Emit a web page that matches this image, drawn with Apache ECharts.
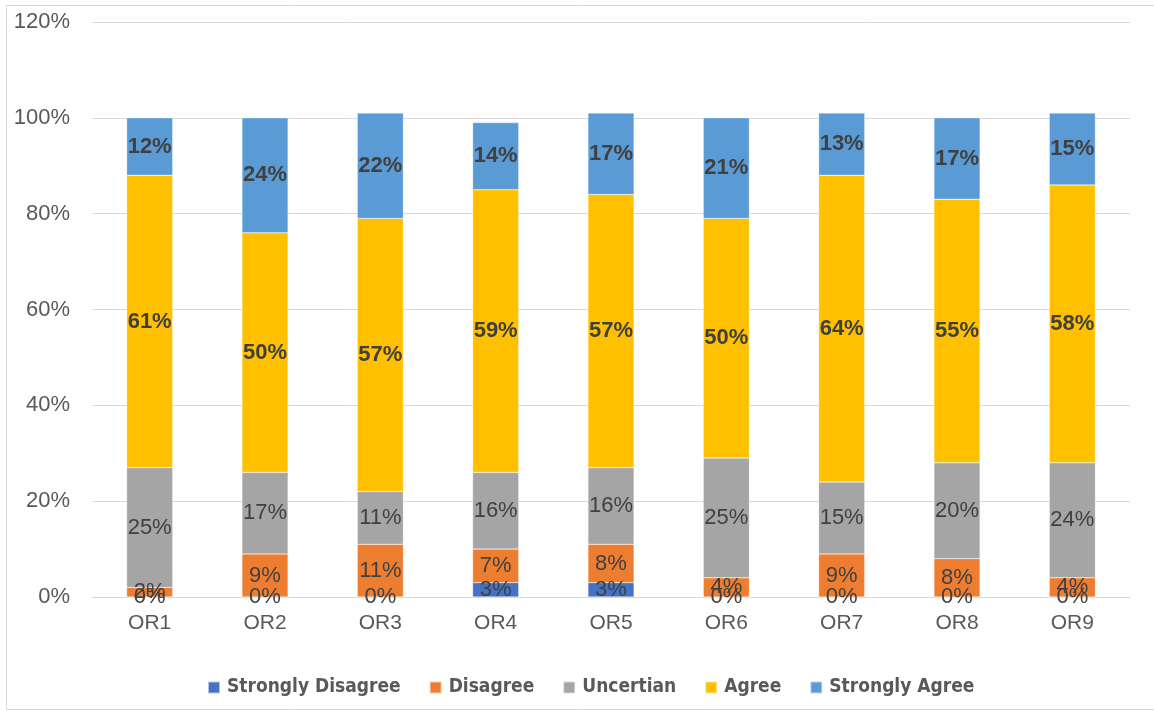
<!DOCTYPE html>
<html>
<head>
<meta charset="utf-8">
<script src="https://cdn.jsdelivr.net/npm/echarts@6/dist/echarts.min.js"></script>
<style>
  html, body { margin: 0; padding: 0; background: #fff; }
  #chart { width: 1154px; height: 711px; }
</style>
</head>
<body>
<div id="chart"></div>
<script>
// Survey responses per item, percentages of respondents
const categories = ['OR1', 'OR2', 'OR3', 'OR4', 'OR5', 'OR6', 'OR7', 'OR8', 'OR9'];
const stronglyDisagree = [0, 0, 0, 3, 3, 0, 0, 0, 0];
const disagree = [2, 9, 11, 7, 8, 4, 9, 8, 4];
const uncertain = [25, 17, 11, 16, 16, 25, 15, 20, 24];
const agree = [61, 50, 57, 59, 57, 50, 64, 55, 58];
const stronglyAgree = [12, 24, 22, 14, 17, 21, 13, 17, 15];
const yTicks = [0, 20, 40, 60, 80, 100, 120];

const seriesDefs = [
  { name: 'Strongly Disagree', data: stronglyDisagree, color: '#4472C4', bold: false },
  { name: 'Disagree', data: disagree, color: '#ED7D31', bold: false },
  { name: 'Uncertian', data: uncertain, color: '#A5A5A5', bold: false },
  { name: 'Agree', data: agree, color: '#FFC000', bold: true },
  { name: 'Strongly Agree', data: stronglyAgree, color: '#5B9BD5', bold: true }
];

const LEGEND_FONT = '"DejaVu Sans Condensed", "Liberation Sans", sans-serif';
const FONT = '"Liberation Sans", sans-serif';

const chart = echarts.init(document.getElementById('chart'), null, { renderer: 'canvas' });

chart.setOption({
  animation: false,
  backgroundColor: '#fff',
  graphic: [{
    type: 'rect',
    shape: { x: 6.5, y: 5.5, width: 1160, height: 704 },
    style: { fill: 'none', stroke: '#d9d9d9', lineWidth: 1 },
    silent: true
  }],
  grid: { left: 92, right: 24, top: 22, bottom: 114 },
  legend: {
    bottom: 9,
    left: 202,
    itemWidth: 12,
    itemHeight: 12,
    itemGap: 28,
    icon: 'rect',
    textStyle: { fontFamily: LEGEND_FONT, fontSize: 19, fontWeight: 'bold', color: '#595959', padding: [0, 0, 0, 2] },
    data: seriesDefs.map(s => s.name)
  },
  xAxis: {
    type: 'category',
    data: categories,
    axisLine: { lineStyle: { color: '#d9d9d9', width: 1 } },
    axisTick: { show: false },
    axisLabel: { color: '#595959', fontSize: 21, fontFamily: FONT, margin: 16 }
  },
  yAxis: {
    type: 'value',
    min: 0,
    max: 120,
    interval: 20,
    axisLine: { show: false },
    axisTick: { show: false },
    splitLine: { lineStyle: { color: '#d9d9d9', width: 1 } },
    axisLabel: {
      color: '#595959',
      fontSize: 22,
      fontFamily: FONT,
      margin: 22,
      formatter: v => (yTicks.includes(v) ? v + '%' : '')
    }
  },
  series: seriesDefs.map(s => ({
    name: s.name,
    type: 'bar',
    stack: 'total',
    barWidth: '40%',
    data: s.data,
    itemStyle: { color: s.color, borderColor: 'rgba(255,255,255,0.6)', borderWidth: 0.5 },
    label: {
      show: true,
      position: 'inside',
      color: '#404040',
      fontSize: 22,
      fontWeight: s.bold ? 'bold' : 'normal',
      fontFamily: FONT,
      formatter: p => p.value + '%'
    },
    labelLayout: { hideOverlap: false }
  }))
});
</script>
</body>
</html>
